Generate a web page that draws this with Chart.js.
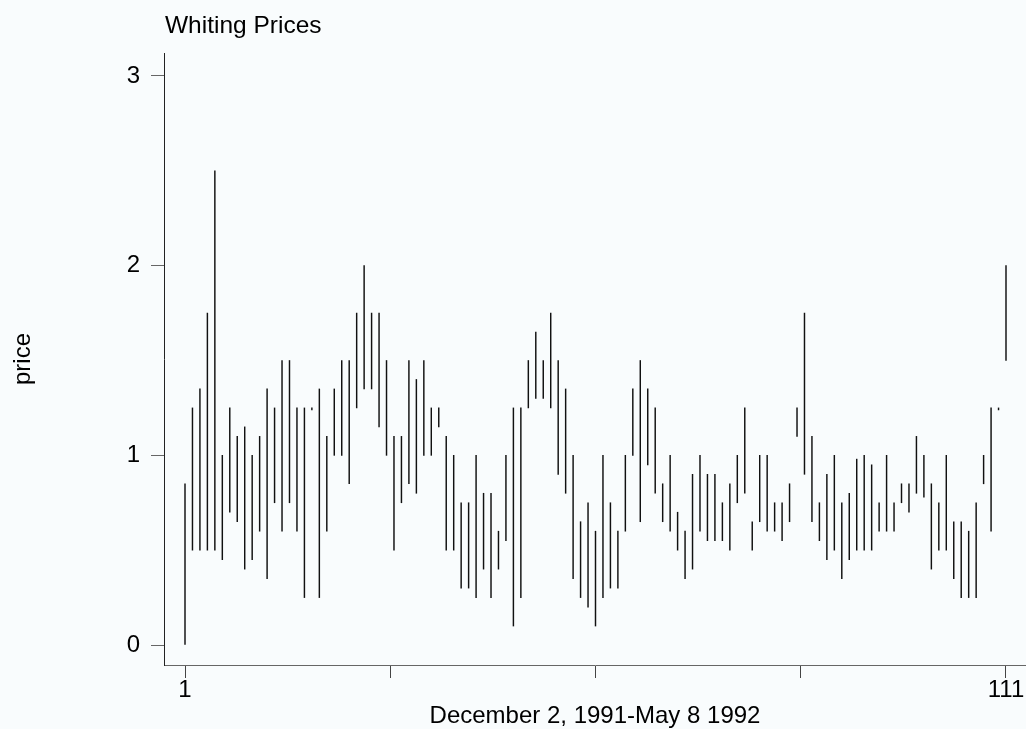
<!DOCTYPE html>
<html>
<head>
<meta charset="utf-8">
<script src="https://cdn.jsdelivr.net/npm/chart.js@4.4.1/dist/chart.umd.min.js"></script>
<style>
  html, body { margin: 0; padding: 0; background: rgb(249,252,253); }
  #wrap { width: 1026px; height: 729px; }
</style>
</head>
<body>
<div id="wrap"><canvas id="c" width="1026" height="729"></canvas></div>
<script>
const chartTitle = "Whiting Prices";
const xTitle = "December 2, 1991-May 8 1992";
const yTitle = "price";
const obs = Array.from({length: 111}, (_, i) => i + 1);
const lows = [
  0, 0.5, 0.5, 0.5, 0.5, 0.45, 0.7, 0.65, 0.4, 0.45,
  0.6, 0.35, 0.75, 0.6, 0.75, 0.6, 0.25, 1.25, 0.25, 0.6,
  1.0, 1.0, 0.85, 1.25, 1.35, 1.35, 1.15, 1.0, 0.5, 0.75,
  0.85, 0.8, 1.0, 1.0, 1.15, 0.5, 0.5, 0.3, 0.3, 0.25,
  0.4, 0.25, 0.4, 0.55, 0.1, 0.25, 1.25, 1.3, 1.3, 1.25,
  0.9, 0.8, 0.35, 0.25, 0.2, 0.1, 0.25, 0.3, 0.3, 0.6,
  1.0, 0.65, 0.95, 0.8, 0.65, 0.6, 0.5, 0.35, 0.4, 0.6,
  0.55, 0.55, 0.55, 0.5, 0.75, 0.8, 0.5, 0.65, 0.6, 0.6,
  0.55, 0.65, 1.1, 0.9, 0.65, 0.55, 0.45, 0.5, 0.35, 0.45,
  0.5, 0.5, 0.5, 0.6, 0.6, 0.6, 0.75, 0.7, 0.8, 0.78,
  0.4, 0.5, 0.5, 0.35, 0.25, 0.25, 0.25, 0.85, 0.6, 1.25,
  1.5
];
const highs = [
  0.85, 1.25, 1.35, 1.75, 2.5, 1.0, 1.25, 1.1, 1.15, 1.0,
  1.1, 1.35, 1.25, 1.5, 1.5, 1.25, 1.25, 1.25, 1.35, 1.1,
  1.35, 1.5, 1.5, 1.75, 2.0, 1.75, 1.75, 1.5, 1.1, 1.1,
  1.5, 1.4, 1.5, 1.25, 1.25, 1.1, 1.0, 0.75, 0.75, 1.0,
  0.8, 0.8, 0.6, 1.0, 1.25, 1.25, 1.5, 1.65, 1.5, 1.75,
  1.5, 1.35, 1.0, 0.65, 0.75, 0.6, 1.0, 0.75, 0.6, 1.0,
  1.35, 1.5, 1.35, 1.25, 0.85, 1.0, 0.7, 0.6, 0.9, 1.0,
  0.9, 0.9, 0.75, 0.85, 1.0, 1.25, 0.65, 1.0, 1.0, 0.75,
  0.75, 0.85, 1.25, 1.75, 1.1, 0.75, 0.9, 1.0, 0.75, 0.8,
  0.98, 1.0, 0.95, 0.75, 1.0, 0.75, 0.85, 0.85, 1.1, 1.0,
  0.85, 0.75, 1.0, 0.65, 0.65, 0.6, 0.75, 1.0, 1.25, 1.25,
  2.0
];
const xTicks = [1, 28.5, 56, 83.5, 111];
const xTickLabels = {1: "1", 111: "111"};
const yTicks = [0, 1, 2, 3];

const FONT = "'Liberation Sans', Arial, Helvetica, sans-serif";
const bg = 'rgb(249,252,253)';

const bgPlugin = {
  id: 'bg',
  beforeDraw(chart) {
    const ctx = chart.ctx;
    ctx.save();
    ctx.fillStyle = bg;
    ctx.fillRect(0, 0, chart.width, chart.height);
    ctx.restore();
  },
  afterDraw(chart) {
    const ctx = chart.ctx;
    ctx.save();
    ctx.fillStyle = '#000';
    ctx.font = "24.5px " + FONT;
    ctx.textBaseline = 'alphabetic';
    ctx.textAlign = 'left';
    ctx.fillText(chartTitle, 165, 33);
    ctx.restore();
  }
};

new Chart(document.getElementById('c'), {
  type: 'bar',
  data: {
    datasets: [{
      data: obs.map((x, i) => ({x: x, y: [lows[i], highs[i]]})),
      backgroundColor: '#111',
      borderWidth: 0,
      barThickness: 0.8,
      minBarLength: 2
    }]
  },
  plugins: [bgPlugin],
  options: {
    responsive: false,
    animation: false,
    events: [],
    layout: { padding: { top: 53, left: 0, right: 0, bottom: 0 } },
    plugins: { legend: { display: false }, tooltip: { enabled: false }, title: { display: false } },
    scales: {
      x: {
        type: 'linear',
        min: 1 - 21 / 7.4636,
        max: 111 + 20 / 7.4636,
        offset: false,
        afterBuildTicks: s => { s.ticks = xTicks.map(v => ({value: v})); },
        afterFit: s => { s.height = 64; },
        ticks: {
          autoSkip: false,
          maxRotation: 0,
          color: '#000',
          padding: 0,
          font: { family: FONT, size: 24, lineHeight: 1 },
          callback: v => xTickLabels[v] || ''
        },
        grid: { drawOnChartArea: false, drawTicks: true, tickLength: 13, tickColor: '#444', offset: false },
        border: { display: true, color: '#666', width: 1 },
        title: { display: true, text: xTitle, color: '#000', font: { family: FONT, size: 24, lineHeight: 1 }, padding: { top: 0, bottom: 1 } }
      },
      y: {
        type: 'linear',
        min: -20 / 189.67,
        max: 3 + 23 / 189.67,
        afterBuildTicks: s => { s.ticks = yTicks.map(v => ({value: v})); },
        afterFit: s => { s.width = 164; },
        ticks: {
          color: '#000',
          padding: 11,
          font: { family: FONT, size: 24, lineHeight: 1 }
        },
        grid: { drawOnChartArea: false, drawTicks: true, tickLength: 13, tickColor: '#666' },
        border: { display: true, color: '#222', width: 1 },
        title: { display: true, text: yTitle, color: '#000', font: { family: FONT, size: 24, lineHeight: 1 }, padding: { top: 11, bottom: 0 } }
      }
    }
  }
});
</script>
</body>
</html>
